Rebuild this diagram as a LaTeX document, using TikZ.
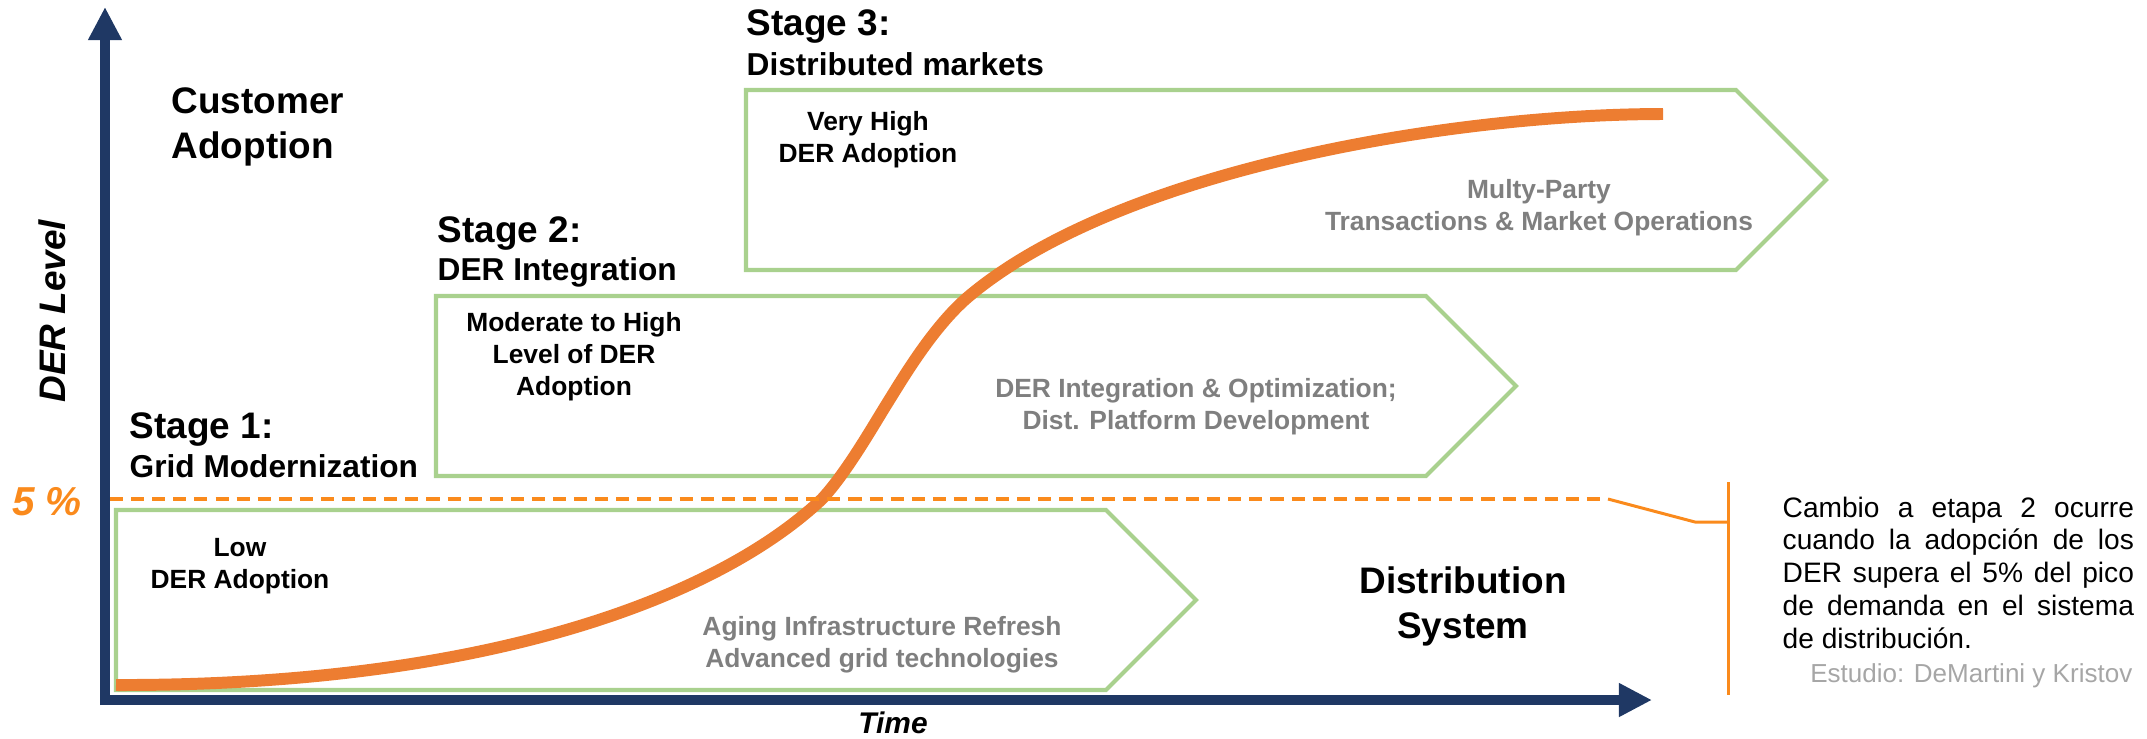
\documentclass[tikz,border=0pt]{standalone}
\usepackage{fontspec}
\setmainfont{Liberation Sans}
\usetikzlibrary{arrows.meta, positioning}
\definecolor{axisblue}{HTML}{1F3864}
\definecolor{stagegreen}{HTML}{A9D18E}
\definecolor{curveorange}{HTML}{ED7D31}
\definecolor{markorange}{HTML}{FA8A1C}
\definecolor{descgray}{HTML}{7F7F7F}
\definecolor{srcgray}{HTML}{A6A6A6}
\tikzset{
>={Triangle[length=9.4pt,width=9pt]}, % heavy heads for the axes
axis/.style={draw=axisblue, line width=2.85pt, ->},
stagebox/.style={draw=stagegreen, line width=1.15pt},
adoption/.style={draw=curveorange, line width=3.4pt},
threshold/.style={draw=markorange, line width=1.1pt, dash pattern=on 3.7pt off 2.3pt},
callout/.style={draw=markorange, line width=0.85pt},
every node/.style={inner sep=0pt},
head/.style={font=\bfseries\fontsize{10.5}{12.8}\selectfont, anchor=base west, align=left},
subhead/.style={font=\bfseries\fontsize{9}{11}\selectfont, anchor=base west},
level/.style={font=\bfseries\fontsize{7.5}{9.1}\selectfont, anchor=base, align=center},
action/.style={level, text=descgray},
}
\begin{document}
\begin{tikzpicture}[x=0.01cm, y=-0.01cm]%one unit is one pixel of the slide
  \useasboundingbox (0,0) rectangle (2147,738);

  % stages as chevrons
  \draw[stagebox] (116,510) coordinate (s1) -- ++(990,0) -- ++(90,90) -- ++(-90,90) -- ++(-990,0) -- cycle;
  \draw[stagebox] (436,296) coordinate (s2) -- ++(990,0) -- ++(90,90) -- ++(-90,90) -- ++(-990,0) -- cycle;
  \draw[stagebox] (746,90) coordinate (s3) -- ++(990,0) -- ++(90,90) -- ++(-90,90) -- ++(-990,0) -- cycle;

  % multi-line nodes sit on their last baseline
  \node[head] (cust) at (171,158) {Customer\\Adoption};
  \node[head] (st1) at (129,438) {Stage 1:};
  \node[subhead, below=0.39cm of st1.base west, anchor=base west] (st1sub) {Grid Modernization};
  \node[head] (st2) at (437,242) {Stage 2:};
  \node[subhead, below=0.38cm of st2.base west, anchor=base west] (st2sub) {DER Integration};
  \node[head] (st3) at (746,35) {Stage 3:};
  \node[subhead, below=0.40cm of st3.base west, anchor=base west] (st3sub) {Distributed markets};

  \node[level] (lvl1) at (240,588) {Low\\DER Adoption};
  \node[level] (lvl2) at (574,395) {Moderate to High\\Level of DER\\Adoption};
  \node[level] (lvl3) at (868,162) {Very High\\DER Adoption};
  \node[action] (act1) at (882,667) {Aging Infrastructure Refresh\\Advanced grid technologies};
  \node[action] (act2) at (1196,429) {DER Integration \& Optimization;\\Dist. Platform Development};
  \node[action] (act3) at (1539,230) {Multy-Party\\Transactions \& Market Operations};

  \node[head, anchor=base, align=center] (dist) at (1463,638) {Distribution\\System};

  % adoption S-curve
  \draw[adoption] (116,685) .. controls (480,686) and (715,600) .. (822,499)
    .. controls (847,472) and (873,426) .. (888,402)
    .. controls (903,378) and (933,327) .. (968,297)
    .. controls (1118,170) and (1450,114) .. (1663,114);

  % axes
  \coordinate (ybot) at (105,705);
  \coordinate (ytip) at (105,7);
  \coordinate (xbeg) at (100,700);
  \coordinate (xtip) at (1652,700);
  \draw[axis] (ybot) -- (ytip);
  \draw[axis] (xbeg) -- (xtip);
  \node[font=\bfseries\itshape\fontsize{10.5}{12}\selectfont, rotate=90, anchor=base] (ylab) at (65,311) {DER Level};
  \node[font=\bfseries\itshape\fontsize{8.5}{10}\selectfont, anchor=base] (xlab) at (893,733) {Time};

  % 5 % threshold and note
  \coordinate (t0) at (110,499);
  \coordinate (t1) at (1608,499);
  \coordinate (t2) at (1695,522);
  \coordinate (t3) at (1728,522);
  \coordinate (b0) at (1728,482);
  \coordinate (b1) at (1728,695);
  \draw[threshold] (t0) -- (t1);
  \draw[callout] (t1) -- (t2) -- (t3);
  \draw[callout] (b0) -- (b1);
  \node[font=\bfseries\itshape\fontsize{11.5}{13}\selectfont, text=markorange, anchor=base] (pct) at (47,515) {5 \%};
  \node[font=\fontsize{8}{9.32}\selectfont, text width=99.9pt, align=justify, anchor=base west] (note) at (1782,517)
    {Cambio a etapa 2 ocurre\linebreak cuando la adopción de los\linebreak DER supera el 5\% del pico\linebreak de demanda en el sistema\linebreak de distribución.};
  \node[font=\fontsize{7.4}{9}\selectfont, text=srcgray, anchor=base east] (src) at (2133,682) {Estudio: DeMartini y Kristov};
\end{tikzpicture}
\end{document}
